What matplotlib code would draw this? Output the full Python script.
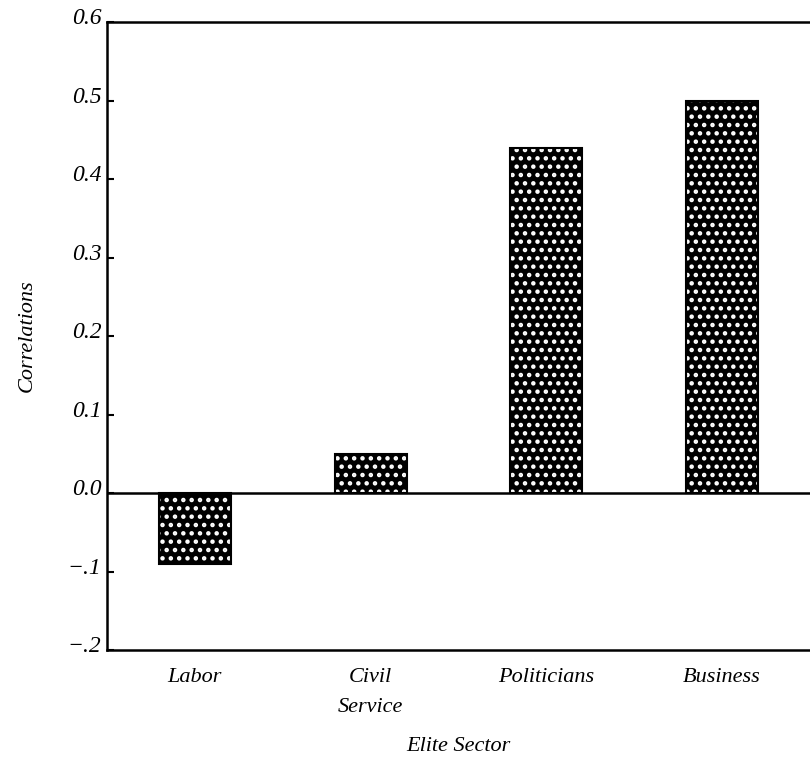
import matplotlib.pyplot as plt
from matplotlib.transforms import ScaledTranslation

sectors = ["Labor", "Civil\nService", "Politicians", "Business"]
correlations = [-0.09, 0.05, 0.44, 0.50]
ytick_vals = [-0.2, -0.1, 0.0, 0.1, 0.2, 0.3, 0.4, 0.5, 0.6]
ytick_labels = ["\u2212.2", "\u2212.1", "0.0", "0.1", "0.2", "0.3", "0.4", "0.5", "0.6"]

plt.rcParams['font.family'] = ['Liberation Serif', 'DejaVu Serif']
plt.rcParams['font.style'] = 'italic'
plt.rcParams['hatch.linewidth'] = 2.0

fig = plt.figure(figsize=(8.1, 7.58), dpi=100)
ax = fig.add_axes([107 / 810, 108 / 758, 1 - 107 / 810, 628 / 758])

x = range(len(sectors))
# dark fill with white dots, then black outline on top
ax.bar(x, correlations, width=0.41, color='black', edgecolor='white',
       hatch='..', linewidth=0, zorder=2)
ax.bar(x, correlations, width=0.41, fill=False, edgecolor='black',
       linewidth=1.5, zorder=3)

ax.axhline(0, color='black', linewidth=1.8, zorder=4)
ax.set_xlim(-0.5, 3.5)
ax.set_ylim(-0.2, 0.6)
ax.set_yticks(ytick_vals)
ax.set_yticklabels(ytick_labels)
ax.set_xticks(list(x))
ax.set_xticklabels(sectors, linespacing=1.75)
ax.tick_params(axis='y', direction='in', length=5, width=1.5, labelsize=17, pad=4)
ax.tick_params(axis='x', length=0, labelsize=16, pad=13)
# y labels sit a little above their ticks
shift = ScaledTranslation(0, 4 / 72, fig.dpi_scale_trans)
for lab in ax.get_yticklabels():
    lab.set_transform(lab.get_transform() + shift)
for s in ['left', 'top', 'bottom']:
    ax.spines[s].set_linewidth(1.8)
ax.spines['right'].set_visible(False)

ax.set_xlabel("Elite Sector", fontsize=16, labelpad=15)
ax.set_ylabel("Correlations", fontsize=16, labelpad=22)

fig.savefig("out.png", dpi=100)
